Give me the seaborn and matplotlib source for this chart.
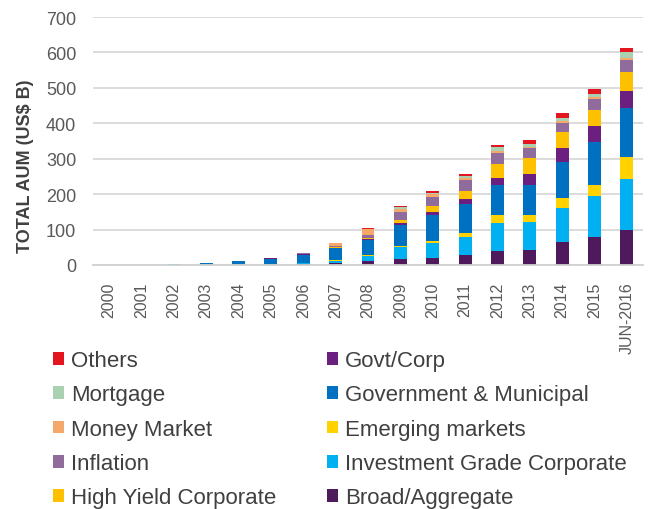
import numpy as np
import pandas as pd
import matplotlib
matplotlib.use("Agg")
import matplotlib.pyplot as plt
import seaborn as sns
from matplotlib.patches import Patch

years = ["2000", "2001", "2002", "2003", "2004", "2005", "2006", "2007", "2008",
         "2009", "2010", "2011", "2012", "2013", "2014", "2015", "JUN-2016"]

broad_aggregate = [0, 0, 0, 0, 0, 1, 2, 7, 12, 17, 20, 29, 40, 43, 64, 78, 99]
investment_grade = [0, 0, 2, 3, 3, 2, 3, 5, 12, 33, 41, 51, 78, 77, 98, 117, 145]
emerging_markets = [0, 0, 0, 0, 0, 0, 0, 1, 3, 3, 6, 9, 22, 20, 26, 30, 62]
govt_municipal = [0, 0, 1, 2, 7, 14, 24, 35, 43, 61, 75, 83, 85, 86, 104, 121, 138]
govt_corp = [0, 0, 0, 0, 0, 2, 3, 1, 4, 5, 8, 14, 20, 32, 38, 45, 46]
high_yield = [0, 0, 0, 0, 0, 0, 0, 1, 2, 8, 16, 24, 39, 44, 45, 47, 54]
inflation = [0, 0, 0, 0, 0, 1, 1, 5, 9, 24, 27, 30, 33, 27, 27, 30, 35]
money_market = [0, 0, 0, 0, 0, 0, 0, 6, 16, 8, 7, 6, 5, 5, 5, 5, 4]
mortgage = [0, 0, 0, 0, 0, 0, 0, 1, 2, 4, 4, 5, 10, 7, 7, 11, 18]
others = [0, 0, 0, 0, 0, 0, 0, 0, 1, 3, 4, 6, 6, 13, 16, 14, 12]

series_names = ["Broad/Aggregate", "Investment Grade Corporate", "Emerging markets",
                "Government & Municipal", "Govt/Corp", "High Yield Corporate",
                "Inflation", "Money Market", "Mortgage", "Others"]
series_values = [broad_aggregate, investment_grade, emerging_markets, govt_municipal,
                 govt_corp, high_yield, inflation, money_market, mortgage, others]
series_colors = ["#4f1a5c", "#00b0f0", "#ffd200", "#0070c0", "#6b1f7f",
                 "#ffc000", "#8f6c9c", "#f6a86b", "#a9d0b1", "#e3161f"]

sns.set_theme(style="white")
plt.rcParams['font.family'] = ['Liberation Sans', 'DejaVu Sans']

fig = plt.figure(figsize=(6.62, 5.10), dpi=100)
ax = fig.add_axes([93 / 662, 1 - 266 / 510, 550 / 662, (266 - 18) / 510])

df = pd.DataFrame({name: vals for name, vals in zip(series_names, series_values)})
df["year"] = years
cum = df[series_names].cumsum(axis=1)

# draw cumulative totals from the top layer down so they stack visually
for name, color in reversed(list(zip(series_names, series_colors))):
    sns.barplot(x=df["year"], y=cum[name], color=color, order=years, ax=ax,
                width=0.4, saturation=1, linewidth=0, errorbar=None)

ax.set_xlim(-0.5, len(years) - 0.5)
ax.set_ylim(0, 700)
ax.set_yticks(np.arange(0, 701, 100))
ax.yaxis.grid(True, color="#d9d9d9", linewidth=1.3)
ax.set_axisbelow(True)
for s in ["top", "right", "left"]:
    ax.spines[s].set_visible(False)
ax.spines["bottom"].set_color("#d0d0d0")
ax.spines["bottom"].set_linewidth(1.3)
ax.set_xlabel("")
ax.set_ylabel("")
ax.tick_params(axis="y", length=0, pad=12, labelsize=13, labelcolor="#595959")
ax.tick_params(axis="x", length=0, pad=12, labelsize=11.5, labelcolor="#595959")
for lbl in ax.get_xticklabels():
    lbl.set_rotation(90)
    lbl.set_va("top")

fig.text(26 / 662, 1 - 166 / 510, "TOTAL AUM (US$ B)", rotation=90, ha="center",
         va="center", fontsize=13, fontweight="bold", color="#404040")

handles = [Patch(facecolor=c, edgecolor="none") for c in reversed(series_colors)]
labels = list(reversed(series_names))
fig.legend(handles, labels, ncol=2, loc="upper left",
           bbox_to_anchor=(42 / 662, 1 - 340 / 510), frameon=False,
           fontsize=16, labelcolor="#404040", handlelength=0.5, handleheight=0.5,
           handletextpad=0.3, labelspacing=0.6, columnspacing=2.3, borderpad=0)

fig.savefig("out.png", dpi=100)
